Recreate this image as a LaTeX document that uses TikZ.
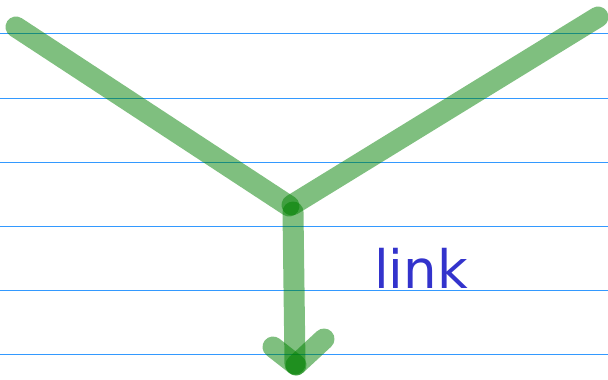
\documentclass[tikz,border=0pt]{standalone}
\usepackage{fontspec}
\newfontfamily\labelfont{DejaVu Sans}
\definecolor{rule}{HTML}{3399FF}
\definecolor{ink}{HTML}{3333CC}
\tikzset{
  ruling/.style={draw=rule, line width=1pt},
  stroke/.style={draw={rgb,255:red,0;green,128;blue,0}, draw opacity=0.5, line width=21pt, line cap=round},
  lbl/.style={text=ink, font=\labelfont\fontsize{53}{53}\selectfont, inner sep=0pt, anchor=base west}
}
\begin{document}
\begin{tikzpicture}[x=1pt,y=-1pt]
\useasboundingbox (0,0) rectangle (608,380);
% ruled lines
\foreach \yy [count=\i] in {33,98,162,226,290,354} {
  \coordinate (r\i a) at (0,\yy);
  \coordinate (r\i b) at (608,\yy);
  \draw[ruling] (r\i a) -- (r\i b);
}
% coordinates
\coordinate (A) at (16,27);
\coordinate (J1) at (289,206);
\coordinate (J2) at (292,205);
\coordinate (B) at (598,17);
\coordinate (V0) at (293,212);
\coordinate (V1) at (295,364);
\coordinate (L) at (273,347);
\coordinate (R) at (324,339);
\coordinate (T) at (296,365);
% strokes
\draw[stroke] (A) -- (J1);
\draw[stroke] (J2) -- (B);
\draw[stroke] (V0) -- (V1);
\draw[stroke] (L) -- (T);
\draw[stroke] (R) -- (T);
\node[lbl] (link) at (374,288) {link};
\end{tikzpicture}
\end{document}
